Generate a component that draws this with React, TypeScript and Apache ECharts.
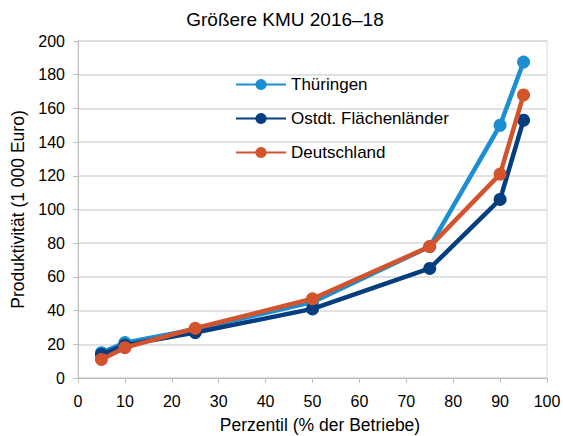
import React, { useEffect, useRef } from "react";
import * as echarts from "echarts";

const percentiles = [5, 10, 25, 50, 75, 90, 95];
const thueringen = [15, 21, 29, 45, 78, 150, 187.5];
const ostdt = [14, 19.5, 27, 41, 65, 106, 153];
const deutschland = [11, 18, 29.5, 47, 78, 121, 168];
const seriesNames = ["Thüringen", "Ostdt. Flächenländer", "Deutschland"];
const colors = ["#1b8fd2", "#053e7e", "#d3532d"];

export default function App() {
  const ref = useRef<HTMLDivElement>(null);
  useEffect(() => {
    const chart = echarts.init(ref.current!, null, { renderer: "svg" });
    const font = "Liberation Sans, Arial, sans-serif";
    const datasets = [thueringen, ostdt, deutschland];
    chart.setOption({
      animation: false,
      textStyle: { fontFamily: font },
      title: {
        text: "Größere KMU 2016–18",
        left: 280,
        textAlign: "center",
        top: 5,
        textStyle: { fontSize: 19, fontWeight: "normal", color: "#000", fontFamily: font },
      },
      legend: {
        orient: "vertical",
        left: 230,
        top: 71,
        itemGap: 17,
        itemWidth: 50,
        itemHeight: 14,
        textStyle: { fontSize: 17, color: "#000", fontFamily: font },
        data: seriesNames,
      },
      grid: {
        left: 78,
        right: 16,
        top: 41,
        bottom: 58,
        outerBoundsMode: "none",
        containLabel: false,
        show: true,
        borderColor: "#d9d9d9",
        borderWidth: 1,
      },
      xAxis: {
        type: "value",
        min: 0,
        max: 100,
        interval: 10,
        name: "Perzentil (% der Betriebe)",
        nameLocation: "middle",
        nameGap: 38,
        nameTextStyle: { fontSize: 17.5, color: "#000", fontFamily: font, padding: [0, 0, 0, 15] },
        axisLine: { lineStyle: { color: "#bfbfbf" } },
        axisTick: { show: true, length: 5, lineStyle: { color: "#bfbfbf" } },
        axisLabel: { fontSize: 16, color: "#000", margin: 15, fontFamily: font },
        splitLine: { show: false },
      },
      yAxis: {
        type: "value",
        min: 0,
        max: 200,
        interval: 20,
        name: "Produktivität (1 000 Euro)",
        nameLocation: "middle",
        nameGap: 50,
        nameTextStyle: { fontSize: 17.5, color: "#000", fontFamily: font },
        axisLine: { show: true, lineStyle: { color: "#bfbfbf" } },
        axisTick: { show: true, length: 5, lineStyle: { color: "#bfbfbf" } },
        axisLabel: { fontSize: 16, color: "#000", margin: 13, fontFamily: font },
        splitLine: { show: true, lineStyle: { color: "#d9d9d9", width: 1.5 } },
      },
      series: seriesNames.map((name, i) => ({
        name,
        type: "line",
        data: percentiles.map((p, j) => [p, datasets[i][j]]),
        symbol: "circle",
        symbolSize: 13,
        lineStyle: { color: colors[i], width: 4.5 },
        itemStyle: { color: colors[i] },
        z: i === 2 ? 3 : i === 0 ? 1 : 2,
      })),
    });
    return () => chart.dispose();
  }, []);
  return (
    <div
      ref={ref}
      style={{ position: "absolute", left: 0, top: 0, width: 563, height: 436 }}
    />
  );
}
